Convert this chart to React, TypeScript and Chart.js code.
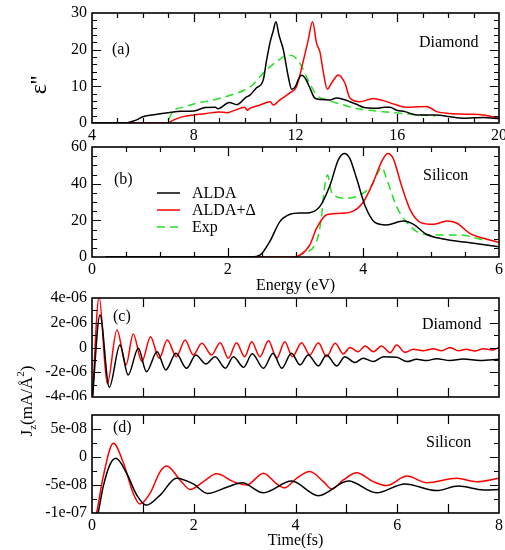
import React, { useEffect, useRef } from 'react';
import { Chart, registerables } from 'chart.js';

Chart.register(...registerables);

// ---------- Panel (a): Diamond, epsilon'' vs energy ----------
const aAldaE = [4, 5.3, 5.6, 5.8, 6.0, 6.5, 7.0, 7.5, 8.0, 8.45, 8.85, 8.95, 9.4, 9.7, 10.05, 10.21, 10.45, 10.73, 10.86, 11.0, 11.12, 11.23, 11.35, 11.52, 11.72, 11.85, 12.0, 12.12, 12.24, 12.4, 12.57, 12.76, 13.0, 13.35, 13.61, 13.9, 14.14, 14.4, 14.66, 15.19, 15.5, 15.71, 15.98, 16.3, 16.76, 17.2, 17.55, 18.07, 18.6, 19.0, 19.38, 20];
const aAldaV = [0, 0, 0.5, 1.0, 1.7, 2.3, 2.8, 3.2, 3.3, 4.2, 4.3, 3.9, 5.6, 5.0, 7.0, 7.6, 9.5, 11.7, 17, 22, 25, 27.6, 24, 20, 12.5, 9.2, 10, 12, 13, 12, 9.5, 6.8, 6.4, 6.3, 6.8, 6.4, 5.8, 5.1, 4.3, 4.0, 4.3, 4.3, 3.5, 3.1, 2.2, 2.2, 2.2, 1.7, 1.3, 1.4, 1.5, 1.2];
const aDeltaE = [4, 6.95, 7.2, 7.5, 8.0, 8.5, 9.0, 9.3, 9.55, 10.0, 10.1, 10.21, 10.6, 11.0, 11.13, 11.39, 11.78, 12.04, 12.31, 12.5, 12.67, 12.83, 12.96, 13.1, 13.25, 13.42, 13.68, 13.94, 14.14, 14.53, 15.06, 15.45, 15.98, 16.37, 16.8, 17.15, 17.55, 18.07, 18.7, 19.38, 20];
const aDeltaV = [0, 0, 0.8, 1.6, 2.2, 2.6, 3.0, 2.8, 3.3, 4.3, 3.5, 4.0, 4.9, 5.8, 4.9, 6.3, 8.2, 9.9, 17, 22.6, 27.6, 21.7, 19.4, 13.6, 9.2, 10.9, 13.1, 10.9, 6.8, 5.8, 6.7, 6.1, 4.9, 4.3, 4.4, 4.5, 3.1, 2.6, 2.4, 2.2, 1.3];
const aExpE = [7.0, 7.2, 7.6, 8.0, 8.5, 9.0, 9.5, 10.0, 10.3, 10.73, 11.25, 11.7, 11.9, 12.17, 12.5, 12.83, 13.25, 13.9, 14.53, 15.45, 16.24, 17.5];
const aExpV = [0.8, 3.3, 4.3, 5.2, 5.9, 6.7, 7.7, 9.0, 10.3, 13.6, 16.7, 18.5, 18.3, 16.3, 11.7, 7.6, 6.3, 4.9, 3.8, 3.1, 2.6, 1.9];
const aXTicks = [4, 8, 12, 16, 20];
const aYTicks = [0, 10, 20, 30];

// ---------- Panel (b): Silicon ----------
const bAldaE = [0.2, 2.35, 2.48, 2.62, 2.77, 2.92, 3.07, 3.21, 3.36, 3.51, 3.63, 3.72, 3.80, 3.90, 4.03, 4.17, 4.34, 4.59, 4.74, 4.93, 5.18, 5.52, 6.0];
const bAldaV = [0, 0, 1.1, 8.4, 19.3, 23.3, 24, 24.2, 27.6, 39.3, 52.9, 56.5, 53.8, 42.9, 27.5, 18.9, 17.5, 19.6, 17.8, 12.4, 9.8, 8, 5.6];
const bDeltaE = [0.2, 2.95, 3.07, 3.21, 3.31, 3.46, 3.66, 3.85, 4.0, 4.15, 4.27, 4.36, 4.44, 4.56, 4.69, 4.84, 5.03, 5.23, 5.38, 5.57, 5.77, 6.0];
const bDeltaV = [0, 0, 1.1, 6.5, 15.6, 23, 23.8, 25, 30, 41.1, 52, 56.5, 53.8, 39.3, 25.8, 18.9, 17.8, 19.6, 18.4, 12.9, 10.2, 8.0];
const bExpE = [3.02, 3.11, 3.31, 3.38, 3.42, 3.47, 3.53, 3.6, 3.75, 3.95, 4.12, 4.22, 4.27, 4.34, 4.49, 4.64, 4.79, 5.03, 5.42, 5.77];
const bExpV = [0, 2, 8.4, 21, 35.6, 44.7, 35.6, 33, 32, 33.8, 39, 46.5, 49, 43, 27.5, 19, 13.8, 12, 12, 9.3];
const bXTicks = [0, 2, 4, 6];
const bYTicks = [0, 20, 40, 60];

// ---------- Panel (c): Diamond current ----------
const cAldaT = [0, 0.157, 0.34, 0.55, 0.71, 0.91, 1.07, 1.28, 1.45, 1.65, 1.86, 2.04, 2.24, 2.42, 2.62, 2.78, 2.98, 3.15, 3.37, 3.56, 3.73, 3.92, 4.09, 4.25, 4.45, 4.61, 4.81, 4.97, 5.17, 5.33, 5.53, 5.73, 5.99, 6.19, 6.38, 6.58, 6.77, 7.04, 7.3, 7.63, 8.0];
const cAldaV = [-4.6e-6, 2.62e-6, -3.21e-6, 0.2e-6, -2.22e-6, -0.07e-6, -1.95e-6, -0.34e-6, -1.81e-6, -0.47e-6, -1.68e-6, -0.6e-6, -1.33e-6, -0.74e-6, -1.68e-6, -0.74e-6, -1.6e-6, -0.5e-6, -1.68e-6, -0.47e-6, -1.68e-6, -0.47e-6, -1.41e-6, -0.6e-6, -1.49e-6, -0.6e-6, -1.49e-6, -0.74e-6, -1.22e-6, -0.87e-6, -1.14e-6, -0.74e-6, -0.79e-6, -1.14e-6, -0.95e-6, -1.06e-6, -0.9e-6, -1.06e-6, -0.93e-6, -1.06e-6, -0.95e-6];
const cDeltaT = [0, 0.14, 0.3, 0.49, 0.67, 0.81, 0.98, 1.15, 1.32, 1.48, 1.66, 1.83, 1.99, 2.16, 2.35, 2.52, 2.68, 2.84, 3.0, 3.14, 3.3, 3.47, 3.63, 3.79, 3.94, 4.12, 4.28, 4.45, 4.61, 4.78, 4.94, 5.07, 5.23, 5.37, 5.53, 5.69, 5.86, 5.99, 6.15, 6.32, 6.51, 6.71, 6.87, 7.04, 7.2, 7.36, 7.53, 7.69, 7.86, 8.0];
const cDeltaV = [-4.8e-6, 4.1e-6, -2.94e-6, 1.41e-6, -1.41e-6, 1.09e-6, -1.14e-6, 0.87e-6, -0.87e-6, 0.6e-6, -0.74e-6, 0.6e-6, -0.6e-6, 0.34e-6, -0.6e-6, 0.39e-6, -0.87e-6, 0.39e-6, -0.74e-6, 0.47e-6, -0.74e-6, 0.55e-6, -0.87e-6, 0.47e-6, -0.74e-6, 0.39e-6, -0.6e-6, 0.39e-6, -0.74e-6, 0.34e-6, -0.52e-6, 0, -0.34e-6, 0.12e-6, -0.34e-6, 0.12e-6, -0.42e-6, 0.2e-6, -0.39e-6, -0.15e-6, -0.26e-6, -0.1e-6, -0.26e-6, 0, -0.26e-6, -0.15e-6, -0.28e-6, -0.1e-6, -0.2e-6, 0];
const cYTicks = [-4e-6, -2e-6, 0, 2e-6, 4e-6];
const cYLabels = ['-4e-06', '-2e-06', '0', '2e-06', '4e-06'];

// ---------- Panel (d): Silicon current ----------
const dAldaT = [0.06, 0.12, 0.22, 0.35, 0.47, 0.68, 0.88, 1.07, 1.34, 1.66, 1.99, 2.27, 2.65, 2.95, 3.37, 3.92, 4.45, 5.04, 5.59, 6.15, 6.77, 7.2, 7.7, 8.0];
const dAldaV = [-1.2e-7, -1.0e-7, -5.3e-8, -1.4e-8, -0.24e-8, -2.9e-8, -6.8e-8, -8.6e-8, -6.8e-8, -3.8e-8, -4.8e-8, -6.5e-8, -5.4e-8, -4.6e-8, -6.4e-8, -4.3e-8, -6.9e-8, -4.3e-8, -6.4e-8, -4.8e-8, -6.0e-8, -5.2e-8, -5.9e-8, -5.8e-8];
const dDeltaT = [0.03, 0.09, 0.22, 0.42, 0.62, 0.81, 0.94, 1.14, 1.34, 1.47, 1.73, 1.93, 2.19, 2.45, 2.78, 3.04, 3.37, 3.63, 3.79, 4.02, 4.28, 4.55, 4.71, 4.94, 5.2, 5.53, 5.79, 6.19, 6.58, 7.17, 7.56, 8.0];
const dDeltaV = [-1.2e-7, -1.0e-7, -3.5e-8, 2.44e-8, -1.13e-8, -6.5e-8, -8.4e-8, -6.5e-8, -2.6e-8, -1.6e-8, -4.1e-8, -5.8e-8, -4.4e-8, -3.0e-8, -4.4e-8, -5.0e-8, -2.9e-8, -4.8e-8, -5.5e-8, -3.8e-8, -2.6e-8, -4.4e-8, -5.7e-8, -4.1e-8, -2.8e-8, -4.4e-8, -5.1e-8, -3.4e-8, -4.6e-8, -3.8e-8, -4.4e-8, -3.8e-8];
const dXTicks = [0, 2, 4, 6, 8];
const dYTicks = [-1e-7, -5e-8, 0, 5e-8];
const dYLabels = ['-1e-07', '-5e-08', '0', '5e-08'];

const seriesNames = ['ALDA', 'ALDA+\u0394', 'Exp'];

// ---------- styling ----------
const FAMILY = '"Liberation Serif", "Times New Roman", serif';
const FONT = { family: FAMILY, size: 16 };
const BLACK = '#000000';
const RED = '#ff0000';
const GREEN = '#22e022';

function line(label: string, xs: number[], ys: number[], color: string, dash?: number[]) {
  return {
    label,
    data: xs.map((x, i) => ({ x, y: ys[i] })),
    borderColor: color,
    backgroundColor: color,
    borderWidth: 1.5,
    borderDash: dash || [],
    pointRadius: 0,
    fill: false,
    cubicInterpolationMode: 'monotone',
  };
}

type Deco = {
  xMinor: number; xMajor: number; yMinor: number; yMajor: number;
  texts: { t: string; x: number; y: number }[];
  legend?: { x: number; y: number; gap: number };
};

function decoPlugin(d: Deco) {
  return {
    id: 'deco',
    afterDatasetsDraw(chart: any) {
      const { ctx, chartArea: a, scales } = chart;
      const xs = scales.x, ys = scales.y;
      const isMajor = (v: number, m: number) => Math.abs(v / m - Math.round(v / m)) < 1e-3;
      ctx.save();
      ctx.strokeStyle = '#000';
      ctx.lineWidth = 1.2;
      ctx.beginPath();
      const nx = Math.round((xs.max - xs.min) / d.xMinor);
      for (let i = 1; i < nx; i++) {
        const v = xs.min + i * d.xMinor;
        const p = Math.round(xs.getPixelForValue(v)) + 0.5;
        const L = isMajor(v, d.xMajor) ? 9 : 5;
        ctx.moveTo(p, a.bottom); ctx.lineTo(p, a.bottom - L);
        ctx.moveTo(p, a.top); ctx.lineTo(p, a.top + L);
      }
      const ny = Math.round((ys.max - ys.min) / d.yMinor);
      for (let i = 1; i < ny; i++) {
        const v = ys.min + i * d.yMinor;
        const p = Math.round(ys.getPixelForValue(v)) + 0.5;
        const L = isMajor(v, d.yMajor) ? 9 : 5;
        ctx.moveTo(a.left, p); ctx.lineTo(a.left + L, p);
        ctx.moveTo(a.right, p); ctx.lineTo(a.right - L, p);
      }
      ctx.stroke();
      ctx.lineWidth = 1.6;
      ctx.strokeRect(a.left, a.top, a.right - a.left, a.bottom - a.top);

      ctx.fillStyle = '#000';
      ctx.font = `16px ${FAMILY}`;
      ctx.textBaseline = 'middle';
      ctx.textAlign = 'left';
      d.texts.forEach((t) => ctx.fillText(t.t, t.x, t.y));

      if (d.legend) {
        const lg = d.legend;
        chart.data.datasets.forEach((ds: any, i: number) => {
          const y = lg.y + i * lg.gap;
          ctx.strokeStyle = ds.borderColor;
          ctx.lineWidth = 1.5;
          ctx.setLineDash(ds.borderDash || []);
          ctx.beginPath();
          ctx.moveTo(lg.x, y); ctx.lineTo(lg.x + 23, y);
          ctx.stroke();
          ctx.setLineDash([]);
          ctx.fillText(ds.label, lg.x + 35, y + 1);
        });
      }
      ctx.restore();
    },
  };
}

type Spec = {
  datasets: any[];
  xMin: number; xMax: number; xTicks: number[]; xLabels: string[] | null; xTitle?: string;
  yMin: number; yMax: number; yTicks: number[]; yLabels: string[];
  padTop: number; xAxisH: number; deco: Deco;
};

function build(s: Spec) {
  return {
    type: 'line',
    data: { datasets: s.datasets },
    options: {
      responsive: false,
      animation: false,
      devicePixelRatio: 1,
      layout: { padding: { top: s.padTop, right: 6, left: 0, bottom: 0 } },
      plugins: { legend: { display: false }, tooltip: { enabled: false } },
      scales: {
        x: {
          type: 'linear',
          min: s.xMin, max: s.xMax,
          grid: { display: false, drawTicks: false },
          border: { display: false },
          ticks: {
            display: !!s.xLabels,
            font: FONT, color: '#000', padding: 3, maxRotation: 0, autoSkip: false,
            callback: (_v: any, i: number) => (s.xLabels ? s.xLabels[i] : ''),
          },
          title: { display: !!s.xTitle, text: s.xTitle || '', font: FONT, color: '#000', padding: 0 },
          afterBuildTicks: (sc: any) => { sc.ticks = s.xTicks.map((v) => ({ value: v })); },
          afterFit: (sc: any) => { sc.height = s.xAxisH; sc.paddingLeft = 0; sc.paddingRight = 0; },
        },
        y: {
          type: 'linear',
          min: s.yMin, max: s.yMax,
          grid: { display: false, drawTicks: false },
          border: { display: false },
          ticks: {
            font: FONT, color: '#000', padding: 5, autoSkip: false,
            callback: (_v: any, i: number) => s.yLabels[i],
          },
          afterBuildTicks: (sc: any) => { sc.ticks = s.yTicks.map((v) => ({ value: v })); },
          afterFit: (sc: any) => { sc.width = 92; sc.paddingTop = 0; sc.paddingBottom = 0; },
        },
      },
    },
    plugins: [decoPlugin(s.deco)],
  };
}

function Panel({ top, height, spec }: { top: number; height: number; spec: () => Spec }) {
  const ref = useRef<HTMLCanvasElement>(null);
  useEffect(() => {
    const chart = new Chart(ref.current as HTMLCanvasElement, build(spec()) as any);
    return () => chart.destroy();
  }, []);
  return (
    <canvas
      ref={ref}
      width={505}
      height={height}
      style={{ position: 'absolute', left: 0, top, width: 505, height, display: 'block' }}
    />
  );
}

const specA = (): Spec => ({
  datasets: [
    line(seriesNames[0], aAldaE, aAldaV, BLACK),
    line(seriesNames[1], aDeltaE, aDeltaV, RED),
    line(seriesNames[2], aExpE, aExpV, GREEN, [8, 5]),
  ],
  xMin: 4, xMax: 20, xTicks: aXTicks, xLabels: aXTicks.map(String),
  yMin: 0, yMax: 30, yTicks: aYTicks, yLabels: aYTicks.map(String),
  padTop: 13, xAxisH: 27,
  deco: { xMinor: 1, xMajor: 4, yMinor: 2, yMajor: 10,
    texts: [{ t: '(a)', x: 112, y: 50 }, { t: 'Diamond', x: 419, y: 43 }] },
});

const specB = (): Spec => ({
  datasets: [
    line(seriesNames[0], bAldaE, bAldaV, BLACK),
    line(seriesNames[1], bDeltaE, bDeltaV, RED),
    line(seriesNames[2], bExpE, bExpV, GREEN, [8, 5]),
  ],
  xMin: 0, xMax: 6, xTicks: bXTicks, xLabels: bXTicks.map(String), xTitle: 'Energy (eV)',
  yMin: 0, yMax: 60, yTicks: bYTicks, yLabels: bYTicks.map(String),
  padTop: 7, xAxisH: 38,
  deco: { xMinor: 0.5, xMajor: 2, yMinor: 5, yMajor: 20,
    texts: [{ t: '(b)', x: 114, y: 40 }, { t: 'Silicon', x: 423, y: 36 }],
    legend: { x: 157, y: 53, gap: 17 } },
});

const specC = (): Spec => ({
  datasets: [
    line(seriesNames[0], cAldaT, cAldaV, BLACK),
    line(seriesNames[1], cDeltaT, cDeltaV, RED),
  ],
  xMin: 0, xMax: 8, xTicks: dXTicks, xLabels: null,
  yMin: -4e-6, yMax: 4e-6, yTicks: cYTicks, yLabels: cYLabels,
  padTop: 8, xAxisH: 3,
  deco: { xMinor: 1, xMajor: 1, yMinor: 1e-6, yMajor: 2e-6,
    texts: [{ t: '(c)', x: 113, y: 27 }, { t: 'Diamond', x: 422, y: 35 }] },
});

const specD = (): Spec => ({
  datasets: [
    line(seriesNames[0], dAldaT, dAldaV, BLACK),
    line(seriesNames[1], dDeltaT, dDeltaV, RED),
  ],
  xMin: 0, xMax: 8, xTicks: dXTicks, xLabels: dXTicks.map(String), xTitle: 'Time(fs)',
  yMin: -1e-7, yMax: 7.5e-8, yTicks: dYTicks, yLabels: dYLabels,
  padTop: 10, xAxisH: 37,
  deco: { xMinor: 1, xMajor: 1, yMinor: 2.5e-8, yMajor: 5e-8,
    texts: [{ t: '(d)', x: 113, y: 23 }, { t: 'Silicon', x: 426, y: 38 }] },
});

export default function App() {
  return (
    <div style={{ position: 'absolute', left: 0, top: 0, width: 505, height: 550, background: '#fff', overflow: 'hidden' }}>
      <Panel top={0} height={150} spec={specA} />
      <Panel top={140} height={155} spec={specB} />
      <Panel top={290} height={110} spec={specC} />
      <Panel top={405} height={145} spec={specD} />
      <div
        style={{
          position: 'absolute', left: 20, top: 70, width: 40, height: 30, lineHeight: '30px',
          textAlign: 'center', transform: 'rotate(-90deg)', font: `24px ${FAMILY}`, color: '#000',
          whiteSpace: 'nowrap',
        }}
      >
        {"\u03B5''"}
      </div>
      <div
        style={{
          position: 'absolute', left: 29 - 60, top: 401 - 12, width: 120, height: 24, lineHeight: '24px',
          textAlign: 'center', transform: 'rotate(-90deg)', font: `17px ${FAMILY}`, color: '#000',
          whiteSpace: 'nowrap',
        }}
      >
        J<span style={{ fontSize: 11, position: 'relative', top: 4 }}>z</span>(mA/Å
        <span style={{ fontSize: 11, position: 'relative', top: -8 }}>2</span>)
      </div>
    </div>
  );
}
